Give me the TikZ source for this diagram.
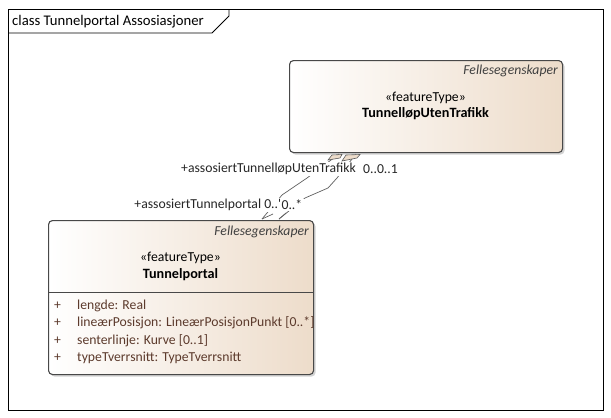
\documentclass[tikz,border=0pt]{standalone}
\usepackage{fontspec}
\setmainfont{Carlito}
\usetikzlibrary{shadows}
\definecolor{boxtan}{RGB}{237,220,202}
\definecolor{boxedge}{RGB}{72,72,72}
\definecolor{attrtext}{RGB}{92,58,44}
\definecolor{linkgray}{RGB}{95,95,95}
\begin{document}
\begin{tikzpicture}[x=1pt,y=-1pt,
  font=\fontsize{13.7}{15}\selectfont,
  classbox/.style={draw=boxedge, line width=1.1pt, rounded corners=4pt,
    left color=white, right color=boxtan, inner sep=0pt,
    drop shadow={shadow xshift=2pt, shadow yshift=-2pt, fill=black!35, opacity=0.5}},
  stereo/.style={inner sep=0pt},
  cname/.style={inner sep=0pt, font=\fontsize{14.2}{16}\selectfont\bfseries},
  pkgtag/.style={inner sep=0pt, anchor=east, font=\fontsize{13.7}{15}\selectfont\itshape, text=black!75},
  attr/.style={inner sep=0pt, anchor=west, text=attrtext},
  assoc/.style={draw=linkgray, line width=0.7pt},
  endlabel/.style={inner sep=1pt, fill=white, text=black!85}]

\useasboundingbox (0,0) rectangle (611,418);

% diagram frame with its name tab
\node[draw, line width=0.9pt, anchor=north west, minimum width=595pt, minimum height=401pt, inner sep=0pt] (frame) at (8,9) {};
\draw[line width=0.9pt] (8,33) -- (212,33) -- (229,16) -- (229,9);
\node[anchor=west, inner sep=0pt, font=\fontsize{14.7}{16}\selectfont] (title) at (12,21.5) {class Tunnelportal Assosiasjoner};

% class TunnelløpUtenTrafikk
\node[classbox, anchor=north west, minimum width=273pt, minimum height=92pt] (top) at (289,60) {};
\node[pkgtag] (toppkg) at (558,71) {Fellesegenskaper};
\node[stereo] (topst) at (425.5,98) {«featureType»};
\node[cname] (topname) at (425.5,114) {TunnelløpUtenTrafikk};

% class Tunnelportal
\node[classbox, anchor=north west, minimum width=265pt, minimum height=154pt] (bot) at (48,220) {};
\node[pkgtag] (botpkg) at (309,232) {Fellesegenskaper};
\node[stereo] (botst) at (180.5,258) {«featureType»};
\node[cname] (botname) at (180.5,275) {Tunnelportal};
\draw[draw=boxedge, line width=0.9pt] (48,292) -- (313,292);
\foreach \y/\t [count=\i] in {306/{lengde: Real},
    323/{lineærPosisjon: LineærPosisjonPunkt [0..*]},
    341/{senterlinje: Kurve [0..1]},
    358/{typeTverrsnitt: TypeTverrsnitt}} {
  \node[attr] (vis\i) at (54,\y) {+};
  \node[attr] (att\i) at (77,\y) {\t};
}

% association ends on the two classes
\coordinate (a1top) at (339,154);
\coordinate (a1bot) at (262,219);
\coordinate (a2top) at (356,154);
\coordinate (a2bot) at (279,219);

\draw[assoc] (a1top) -- (307,178) -- (282,195) -- (a1bot);
\draw[assoc] (a2top) -- (337,178) -- (328,188) -- (305,198) -- (a2bot);
\draw[assoc] (a1bot) -- ++(11,-5);
\draw[assoc] (a2bot) -- ++(7,-6);
\filldraw[fill=boxtan, draw=linkgray, line width=0.6pt]
  (328,160) -- (332,155) -- (342,154.5) -- (340,158) -- cycle;
\filldraw[fill=boxtan, draw=linkgray, line width=0.6pt]
  (342,161) -- (346,155) -- (360,154.5) -- (357,158) -- cycle;

% role names and multiplicities
\node[endlabel, anchor=west] (role1) at (180,169) {+assosiertTunnelløpUtenTrafikk};
\node[endlabel, anchor=west] (mult1) at (362,169) {0..0..1};
\node[endlabel, anchor=west, inner xsep=0pt] (role2) at (132,205) {\,+assosiertTunnelportal 0..\textquotesingle};
\node[endlabel, anchor=west, inner xsep=0pt] (mult2) at (role2.east) {0..*\,};
\end{tikzpicture}
\end{document}
